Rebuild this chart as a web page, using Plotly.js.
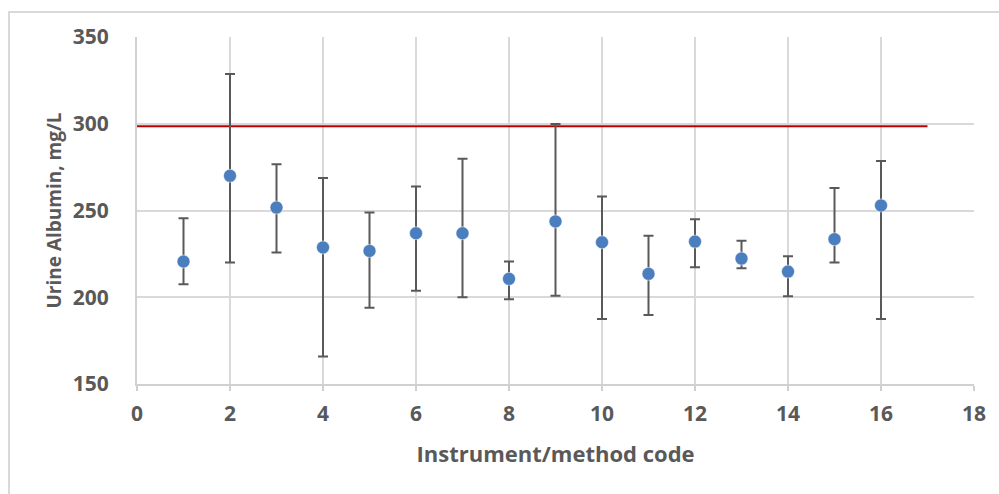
<!DOCTYPE html>
<html>
<head>
<meta charset="utf-8">
<script src="https://cdn.plot.ly/plotly-3.0.1.min.js"></script>
<style>
  html, body { margin: 0; padding: 0; background: #ffffff; }
  #wrap { position: relative; width: 999px; height: 494px; overflow: hidden; }
  #chart { position: absolute; left: 0; top: 0; width: 999px; height: 494px; }
  #frame { position: absolute; left: 8px; top: 11px; width: 1000px; height: 500px;
           border-top: 2px solid #d9d9d9; border-left: 2px solid #d9d9d9; pointer-events: none; }
</style>
</head>
<body>
<div id="wrap">
  <div id="chart"></div>
  <div id="frame"></div>
</div>
<script>
// Instrument/method codes
const codes = [1, 2, 3, 4, 5, 6, 7, 8, 9, 10, 11, 12, 13, 14, 15, 16];
// Mean values (mg/L)
const means = [220.6, 270, 251.7, 228.7, 226.7, 236.9, 236.9, 210.6, 243.7, 231.7, 213.5, 232.1, 222.3, 214.8, 233.5, 252.9];
// Upper ends of error bars
const upper = [245.6, 328.7, 276.7, 268.7, 248.8, 263.8, 279.8, 220.6, 299.8, 258.1, 235.4, 245, 232.5, 223.7, 262.9, 278.5];
// Lower ends of error bars
const lower = [207.5, 220, 225.8, 165.8, 194, 203.7, 200, 198.8, 200.8, 187.5, 189.8, 217.3, 216.7, 200.6, 220, 187.5];
// Reference line
const refLineX = [0, 17];
const refLineY = [298.5, 298.5];
// Tick labels
const xTicks = [0, 2, 4, 6, 8, 10, 12, 14, 16, 18];
const yTicks = [150, 200, 250, 300, 350];

const errPlus = upper.map((u, i) => u - means[i]);
const errMinus = lower.map((l, i) => means[i] - l);

const textColor = '#595959';
const fontFam = '"Open Sans", "Liberation Sans", sans-serif';

const traces = [
  {
    x: refLineX, y: refLineY, type: 'scatter', mode: 'lines',
    line: { color: '#c00000', width: 2 }, hoverinfo: 'skip', showlegend: false
  },
  {
    x: codes, y: means, type: 'scatter', mode: 'markers',
    marker: { color: '#4a7ebf', size: 13, line: { color: '#ffffff', width: 0.5 } },
    error_y: { type: 'data', symmetric: false, array: errPlus, arrayminus: errMinus,
               color: '#595959', thickness: 2, width: 5 },
    showlegend: false
  }
];

const layout = {
  width: 999, height: 494,
  margin: { l: 137, r: 25, t: 37, b: 110 },
  paper_bgcolor: '#ffffff', plot_bgcolor: '#ffffff',
  font: { family: fontFam, color: textColor },
  xaxis: {
    range: [0, 18], tickvals: xTicks, ticktext: xTicks.map(String),
    showgrid: true, gridcolor: '#d9d9d9', gridwidth: 2,
    zeroline: false, showline: true, linecolor: '#d0d0d0', linewidth: 2,
    ticks: 'outside', ticklen: 5, tickcolor: '#d0d0d0', tickwidth: 2,
    tickfont: { family: fontFam, size: 21, color: textColor, weight: 'bold' },
    ticklabelstandoff: 5,
    title: { text: 'Instrument/method code', standoff: 20,
             font: { family: fontFam, size: 22, color: textColor, weight: 'bold' } }
  },
  yaxis: {
    range: [150, 350], tickvals: yTicks, ticktext: yTicks.map(String),
    showgrid: true, gridcolor: '#d9d9d9', gridwidth: 2,
    zeroline: false, showline: true, linecolor: '#d0d0d0', linewidth: 2,
    ticks: '',
    tickfont: { family: fontFam, size: 21, color: textColor, weight: 'bold' },
    ticklabelstandoff: 22,
    title: { text: 'Urine Albumin, mg/L', standoff: 6,
             font: { family: fontFam, size: 19, color: textColor, weight: 'bold' } }
  }
};

Plotly.newPlot('chart', traces, layout, { displayModeBar: false, staticPlot: true });
</script>
</body>
</html>
